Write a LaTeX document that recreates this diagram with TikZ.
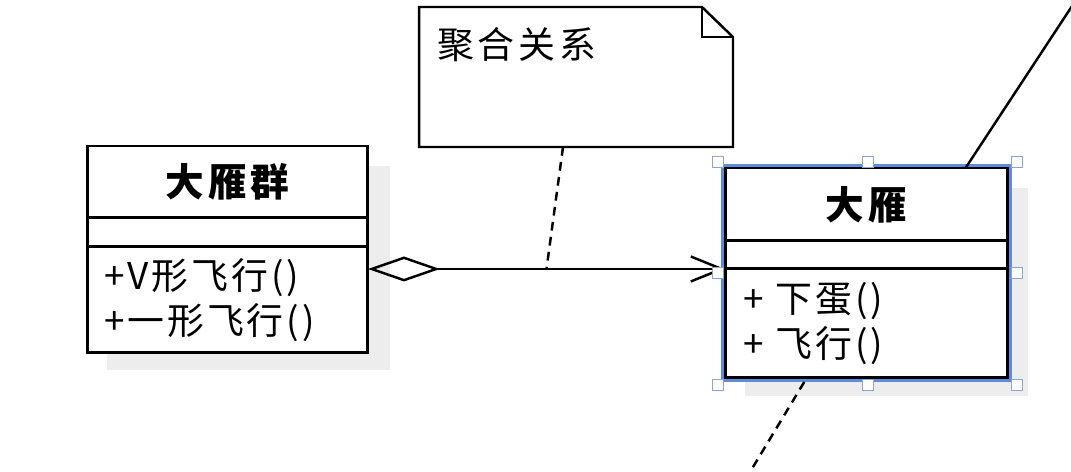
\documentclass[tikz,border=0pt]{standalone}
\usepackage{fontspec}
\setmainfont{Noto Sans CJK SC}
\usepackage{xcolor}
\usepackage{tikz}
\usetikzlibrary{positioning, arrows.meta, calc, backgrounds}
\definecolor{selblue}{RGB}{96,138,222}
\definecolor{handleedge}{RGB}{140,165,210}

\begin{document}
\begin{tikzpicture}[
        x=0.02cm, y=-0.02cm,
        classtitle/.style={
          draw,
          line width=1.7pt,
          fill=white,
          outer sep=0pt,
          font=\fontsize{22}{27}\selectfont\bfseries\addfontfeature{LetterSpace=10}
        },
        classattr/.style={
          draw,
          line width=1.7pt,
          fill=white,
          outer sep=0pt
        },
        classops/.style={
          draw,
          line width=1.7pt,
          fill=white,
          outer sep=0pt,
          align=left,
          font=\fontsize{21}{26}\selectfont\addfontfeature{LetterSpace=8}
        },
        notebox/.style={
          minimum width=6.28cm,
          minimum height=2.8cm,
          outer sep=0pt
        },
        noteline/.style={line width=1.4pt},
        notetext/.style={inner sep=0pt, font=\fontsize{21}{26}\selectfont\addfontfeature{LetterSpace=10}},
        aggregation/.style={
          line width=1.4pt,
          {Diamond[open, length=1.44cm, width=0.5cm]}-{Straight Barb[length=0.62cm, width=0.5cm]}
        },
        notelink/.style={line width=1.4pt, dash pattern=on 5pt off 3.6pt},
        assoc/.style={line width=1.4pt},
        shadowbox/.style={fill=black!7},
        selection/.style={draw=selblue, line width=0.12cm},
        handle/.style={
          draw=handleedge,
          fill=white,
          line width=0.6pt,
          minimum size=0.21cm,
          inner sep=0pt
        }
      ]
        \useasboundingbox (0,0) rectangle (1071,472);
        \clip (0,0) rectangle (1071,472);

        % flock class
        \node[classtitle, minimum width=5.62cm, minimum height=1.44cm] (flocktitle) at (227.5,182) {大雁群};
        \node[classattr, minimum width=5.62cm, minimum height=0.58cm, below=0pt of flocktitle] (flockattr) {};
        \node[classops, text width=4.94cm, inner xsep=0.34cm, minimum height=2.12cm, below=0pt of flockattr] (flockops) {+V形飞行()\\+一形飞行()};

        % goose class
        \node[classtitle, minimum width=5.66cm, minimum height=1.46cm] (goosetitle) at (866.5,204.5) {大雁};
        \node[classattr, minimum width=5.66cm, minimum height=0.56cm, below=0pt of goosetitle] (gooseattr) {};
        \node[classops, text width=4.94cm, inner xsep=0.36cm, minimum height=2.18cm, below=0pt of gooseattr] (gooseops) {+ 下蛋()\\+ 飞行()};

        \begin{scope}[on background layer]
          \fill[white] (0,0) rectangle (1071,472);
          \fill[shadowbox] ($(flocktitle.north west)+(20,20)$) rectangle ($(flockops.south east)+(22,17)$);
          \fill[shadowbox] ($(goosetitle.north west)+(20,20)$) rectangle ($(gooseops.south east)+(20,18)$);
          \draw[selection] ($(goosetitle.north west)+(-1,-1)$) rectangle ($(gooseops.south east)+(1,1)$);
        \end{scope}

        % note
        \node[notebox] (note) at (576,77) {};
        \draw[noteline, fill=white] (note.north west) -- ([xshift=-0.62cm]note.north east)
          -- ([yshift=-0.6cm]note.north east) -- (note.south east) -- (note.south west) -- cycle;
        \draw[noteline] ([xshift=-0.62cm]note.north east) |- ([yshift=-0.6cm]note.north east);
        \node[notetext, anchor=west] (notelabel) at (437,45) {聚合关系};

        % aggregation
        \coordinate (aggstart) at (flockops.east |- gooseattr.south west);
        \draw[aggregation] (aggstart) -- (gooseattr.south west);
        \coordinate (notefoot) at ($(note.south)+(-13,0)$);
        \coordinate (notepin) at ($(aggstart)!0.5!(gooseattr.south west)$);
        \draw[notelink] (notefoot) -- (notepin);

        % links leaving the view
        \coordinate (offtop) at (1076,0);
        \coordinate (offbottom) at (750,472);
        \draw[assoc] ($(goosetitle.north west)!0.85!(goosetitle.north east)$) -- (offtop);
        \draw[notelink] ($(gooseops.south west)!0.28!(gooseops.south east)+(0,4)$) -- (offbottom);

        % selection handles
        \foreach \hx/\hy [count=\i] in {718/162, 868/162, 1017/162, 718/273, 1017/273, 718/385, 868/385, 1017/385}
          \node[handle] (handle\i) at (\hx,\hy) {};
      \end{tikzpicture}
\end{document}
